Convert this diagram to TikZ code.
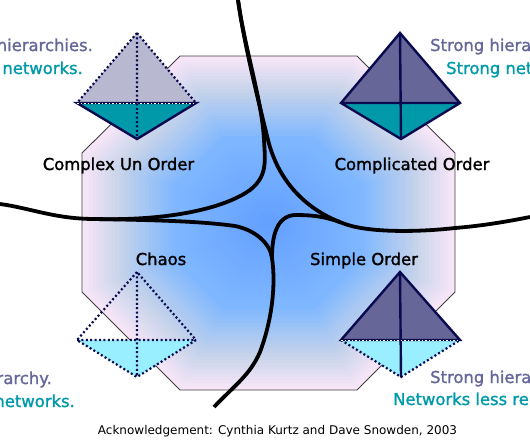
\documentclass[tikz,border=0pt]{standalone}
\usepackage{fontspec}
\setmainfont{DejaVu Sans}
\newfontfamily\labfont[FakeBold=1.4]{DejaVu Sans}
\definecolor{edgepink}{HTML}{F8E6F8}
\definecolor{greystop}{HTML}{C6D3EA}
\definecolor{midblue}{HTML}{80B8FF}
\definecolor{coreblue}{HTML}{629FFF}
\definecolor{navy}{HTML}{0A0A50}
\definecolor{hier}{HTML}{666699}
\definecolor{netw}{HTML}{0099AA}
\definecolor{paleup}{HTML}{B8B8D0}
\definecolor{palecyan}{HTML}{99EEFF}
\tikzset{
  hardline/.style={draw=navy,line width=2.4pt,line join=miter},
  softline/.style={draw=navy,line width=2.2pt,dash pattern=on 2pt off 2.4pt},
  seamline/.style={draw=white,line width=.9pt,dash pattern=on 1.5pt off 2pt},
  domainlabel/.style={anchor=base,font=\labfont\fontsize{16.4}{18}\selectfont,text=black,inner sep=0pt},
  hiertext/.style={anchor=base,font=\labfont\fontsize{16.4}{18}\selectfont,text=hier,inner sep=0pt},
  netwtext/.style={anchor=base,font=\labfont\fontsize{16.4}{18}\selectfont,text=netw,inner sep=0pt},
  boundary/.style={draw=black,line width=3.8pt,line cap=butt,line join=round},
}
\begin{document}
\begin{tikzpicture}[x=1pt,y=-1pt]
\useasboundingbox (0,0) rectangle (530,442);
\clip (0,0) rectangle (530,442);
% graded octagon
\foreach \i in {100,98,...,2}{
  \pgfmathsetmacro{\fr}{\i/100}
  \pgfmathtruncatemacro{\ta}{min(100,max(0,(100-\i)*100/20))}
  \pgfmathtruncatemacro{\tb}{min(100,max(0,(80-\i)*100/28))}
  \pgfmathtruncatemacro{\tc}{min(100,max(0,(52-\i)*100/52))}
  \colorlet{stepa}{coreblue!\tc!midblue}
  \colorlet{stepb}{stepa!\tb!greystop}
  \colorlet{stepc}{stepb!\ta!edgepink}
  \begin{scope}[shift={(268,223)},scale=\fr]
    \fill[stepc] (-88,-167)--(89,-167)--(187,-70)--(187,69)--(89,167)--(-88,167)--(-186,69)--(-186,-70)--cycle;
  \end{scope}
}
\draw[draw=black!75,line width=.9pt] (180,56)--(357,56)--(455,153)--(455,292)--(357,390)--(180,390)--(82,292)--(82,153)--cycle;
% boundaries
\draw[boundary] (0,204) .. controls (30,208) and (55,219) .. (95,219) .. controls (170,221) and (225,208) .. (250,190) .. controls (268,176) and (265,160) .. (264,140) .. controls (262,100) and (245,50) .. (238,0);
\draw[boundary] (95,219) .. controls (150,220) and (200,221) .. (235,226) .. controls (255,230) and (270,243) .. (272,258) .. controls (276,285) and (272,320) .. (260,352) .. controls (250,375) and (235,385) .. (214,407);
\draw[boundary] (272,258) .. controls (272,235) and (277,216) .. (295,215) .. controls (315,215) and (325,217) .. (340,222);
\draw[boundary] (238,0) .. controls (245,50) and (262,115) .. (268,140) .. controls (278,180) and (305,210) .. (345,224) .. controls (370,233) and (420,232) .. (455,228) .. controls (480,226) and (505,222) .. (530,217);
% pyramids
\coordinate (a1) at (137,33); \coordinate (l1) at (77,103); \coordinate (r1) at (196,103); \coordinate (b1) at (137,139);
\fill[paleup] (a1)--(l1)--(r1)--cycle;
\fill[netw] (l1)--(r1)--(b1)--cycle;
\draw[hardline] (l1)--(b1)--(r1)--cycle;
\draw[seamline] (l1)--(r1);
\draw[softline] (a1)--(l1) (a1)--(r1) (a1)--(b1);
\coordinate (a2) at (400,33); \coordinate (l2) at (341,103); \coordinate (r2) at (460,103); \coordinate (b2) at (401,139);
\fill[hier] (a2)--(l2)--(r2)--cycle;
\fill[netw] (l2)--(r2)--(b2)--cycle;
\draw[hardline] (a2)--(l2)--(b2)--(r2)--cycle (l2)--(r2) (a2)--(b2);
\coordinate (a3) at (137,272); \coordinate (l3) at (77,340); \coordinate (r3) at (196,340); \coordinate (b3) at (137,377);
\fill[palecyan] (l3)--(r3)--(b3)--cycle;
\draw[softline] (a3)--(l3)--(b3)--(r3)--cycle (l3)--(r3) (a3)--(b3);
\coordinate (a4) at (400,272); \coordinate (l4) at (341,340); \coordinate (r4) at (460,340); \coordinate (b4) at (401,377);
\fill[hier] (a4)--(l4)--(r4)--cycle;
\fill[palecyan] (l4)--(r4)--(b4)--cycle;
\draw[softline] (l4)--(b4)--(r4);
\draw[hardline] (a4)--(l4)--(r4)--cycle (a4)--(b4);
\draw[seamline] (l4)--(r4);
% labels
\node[domainlabel] (complex) at (118.5,170) {Complex Un Order};
\node[domainlabel] (complicated) at (412,170) {Complicated Order};
\node[domainlabel] (chaos) at (161,265) {Chaos};
\node[domainlabel] (simple) at (364,265) {Simple Order};
\node[hiertext,anchor=base east] (t1) at (93,51) {hierarchies.};
\node[netwtext,anchor=base east] (n1) at (83,74) {networks.};
\node[hiertext,anchor=base west] (t2) at (430,51) {Strong hiera};
\node[netwtext,anchor=base west] (n2) at (446,74) {Strong net};
\node[hiertext,anchor=base east] (t3) at (52,384) {rarchy.};
\node[netwtext,anchor=base east] (n3) at (75,407) {networks.};
\node[hiertext,anchor=base west] (t4) at (430,383) {Strong hiera};
\node[netwtext,anchor=base west] (n4) at (393,405) {Networks less rel};
\node[anchor=base,inner sep=0pt,font=\fontsize{12}{15}\selectfont] (ack) at (277.5,434) {Acknowledgement: Cynthia Kurtz and Dave Snowden, 2003};
\end{tikzpicture}
\end{document}
